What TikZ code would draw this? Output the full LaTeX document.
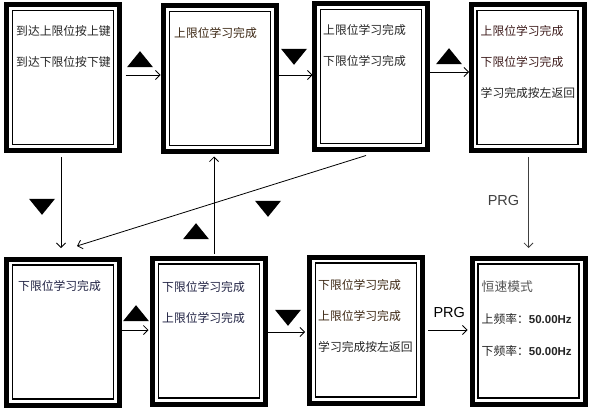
\documentclass[tikz,border=0pt]{standalone}
\usepackage{fontspec}
\setmainfont{Liberation Sans}
\newfontfamily\cjk{Noto Sans CJK SC}
\usetikzlibrary{arrows.meta,positioning,calc,shapes.geometric}
\definecolor{cTxt}{HTML}{242424}
\definecolor{cNavy}{HTML}{1F2142}
\definecolor{cBrown}{HTML}{3B2612}
\definecolor{cRed}{HTML}{3D1B1B}
\definecolor{cMode}{HTML}{555555}
\definecolor{cPrg}{HTML}{404040}
\newcommand{\hz}[1]{{\fontspec{Liberation Sans}\bfseries\fontsize{11.5}{13}\selectfont #1}}

\begin{document}
\begin{tikzpicture}[
  x=1pt, y=-1pt,
  screen/.style={
    draw, line width=5pt, minimum width=113, minimum height=146,
    inner sep=0pt, outer sep=0pt,
  },
  txt/.style={
    anchor=west, inner sep=0pt, text=cTxt,
    font=\cjk\fontsize{11.8}{13}\selectfont,
  },
  arr/.style={-{Straight Barb[length=4.5pt,width=9pt]}, line width=0.8pt},
  upmark/.style={
    isosceles triangle, isosceles triangle stretches, shape border rotate=90,
    minimum width=26, minimum height=16, inner sep=0pt, fill=black,
  },
  downmark/.style={upmark, shape border rotate=-90},
  prg/.style={inner sep=0pt, font=\fontsize{14.5}{16}\selectfont},
]
\useasboundingbox (0,0) rectangle (591,409);

% --- screens, top row ---
\node[screen] (b1) at (63,77.5) {};
\node[screen] (b2) at (220,78.5) {};
\node[screen] (b3) at (371,76.5) {};
\node[screen] (b4) at (527.5,77.5) {};
% --- screens, bottom row ---
\node[screen] (b5) at (63,332) {};
\node[screen] (b6) at (209,331) {};
\node[screen] (b7) at (366,330) {};
\node[screen] (b8) at (528.5,331) {};

% thin inner frame of every screen
\foreach \b in {b1,b2,b3,b4,b5,b6,b7,b8}
  \draw[line width=1.4pt] ($(\b.north west)+(6,6)$) rectangle ($(\b.south east)+(-6,-6)$);

% --- screen texts ---
\node[txt] (l11) at ($(b1.north west)+(9.5,26.5)$) {到达上限位按上键};
\node[txt] (l12) at ($(b1.north west)+(9.5,57.5)$) {到达下限位按下键};

\node[txt, text=cBrown] (l21) at ($(b2.north west)+(10.5,27.5)$) {上限位学习完成};

\node[txt] (l31) at ($(b3.north west)+(8.5,26.5)$) {上限位学习完成};
\node[txt] (l32) at ($(b3.north west)+(8.5,57.5)$) {下限位学习完成};

\node[txt, text=cRed] (l41) at ($(b4.north west)+(9.5,26.5)$) {上限位学习完成};
\node[txt, text=cRed] (l42) at ($(b4.north west)+(9.5,57.5)$) {下限位学习完成};
\node[txt] (l43) at ($(b4.north west)+(9.5,88.5)$) {学习完成按左返回};

\node[txt, text=cNavy] (l51) at ($(b5.north west)+(11.5,27.5)$) {下限位学习完成};

\node[txt, text=cNavy] (l61) at ($(b6.north west)+(9.5,29.5)$) {下限位学习完成};
\node[txt, text=cNavy] (l62) at ($(b6.north west)+(9.5,60.5)$) {上限位学习完成};

\node[txt, text=cBrown] (l71) at ($(b7.north west)+(8.5,28.5)$) {下限位学习完成};
\node[txt, text=cBrown] (l72) at ($(b7.north west)+(8.5,59.5)$) {上限位学习完成};
\node[txt] (l73) at ($(b7.north west)+(8.5,90.5)$) {学习完成按左返回};

\node[txt, text=cMode, font=\cjk\fontsize{12.8}{14}\selectfont] (l81)
  at ($(b8.north west)+(9.5,28.5)$) {恒速模式};
\node[txt] (l82) at ($(b8.north west)+(9.5,60.5)$) {上频率：\hz{50.00Hz}};
\node[txt] (l83) at ($(b8.north west)+(9.5,92.5)$) {下频率：\hz{50.00Hz}};

% --- key marks ---
\node[upmark] (t12) at (140,61) {};
\node[downmark] (t23) at (294,55) {};
\node[upmark] (t34) at (449,58) {};
\node[downmark] (t15) at (42,205) {};
\node[upmark] (t62) at (196,233) {};
\node[downmark] (t35) at (268,207) {};
\node[upmark] (t56) at (136,315) {};
\node[downmark] (t67) at (288,316) {};

% --- transitions ---
\draw[arr] ($(b1.east)+(6,-2.5)$) -- ($(b2.west)+(-3,-3.5)$);
\draw[arr] ($(b2.east)+(2,-3.5)$) -- ($(b3.west)+(-2,-1.5)$);
\draw[arr] ($(b3.east)+(2,-4.5)$) -- ($(b4.west)+(-2,-5.5)$);

\draw[arr] ($(b1.south)+(-2,6.5)$) -- ($(b5.north)+(-2,-11)$);
\coordinate (up) at ($(b6.north)+(5,-4)$);
\draw[arr] (up) -- ($(up |- b2.south)+(0,5)$);
\draw[arr] ($(b3.south)+(-5,6)$) -- ($(b5.north)+(14,-13)$);
\draw[arr, cPrg] ($(b4.south)+(1,6.5)$) -- ($(b8.north)+(0,-10)$);
\node[prg, text=cPrg] (prg1) at ($(b4.south)+(-24,50)$) {PRG};

\draw[arr] ($(b5.east)+(2.5,-2)$) -- ($(b6.west)+(-4,-1)$);
\draw[arr] ($(b6.east)+(2.5,1)$) -- ($(b7.west)+(-4.5,2)$);
\draw[arr] ($(b7.east)+(5.5,0)$) -- ($(b8.west)+(-4.5,-1)$);
\node[prg] (prg2) at ($(b7.east)!0.5!(b8.west)+(2,-18)$) {PRG};

\end{tikzpicture}
\end{document}
